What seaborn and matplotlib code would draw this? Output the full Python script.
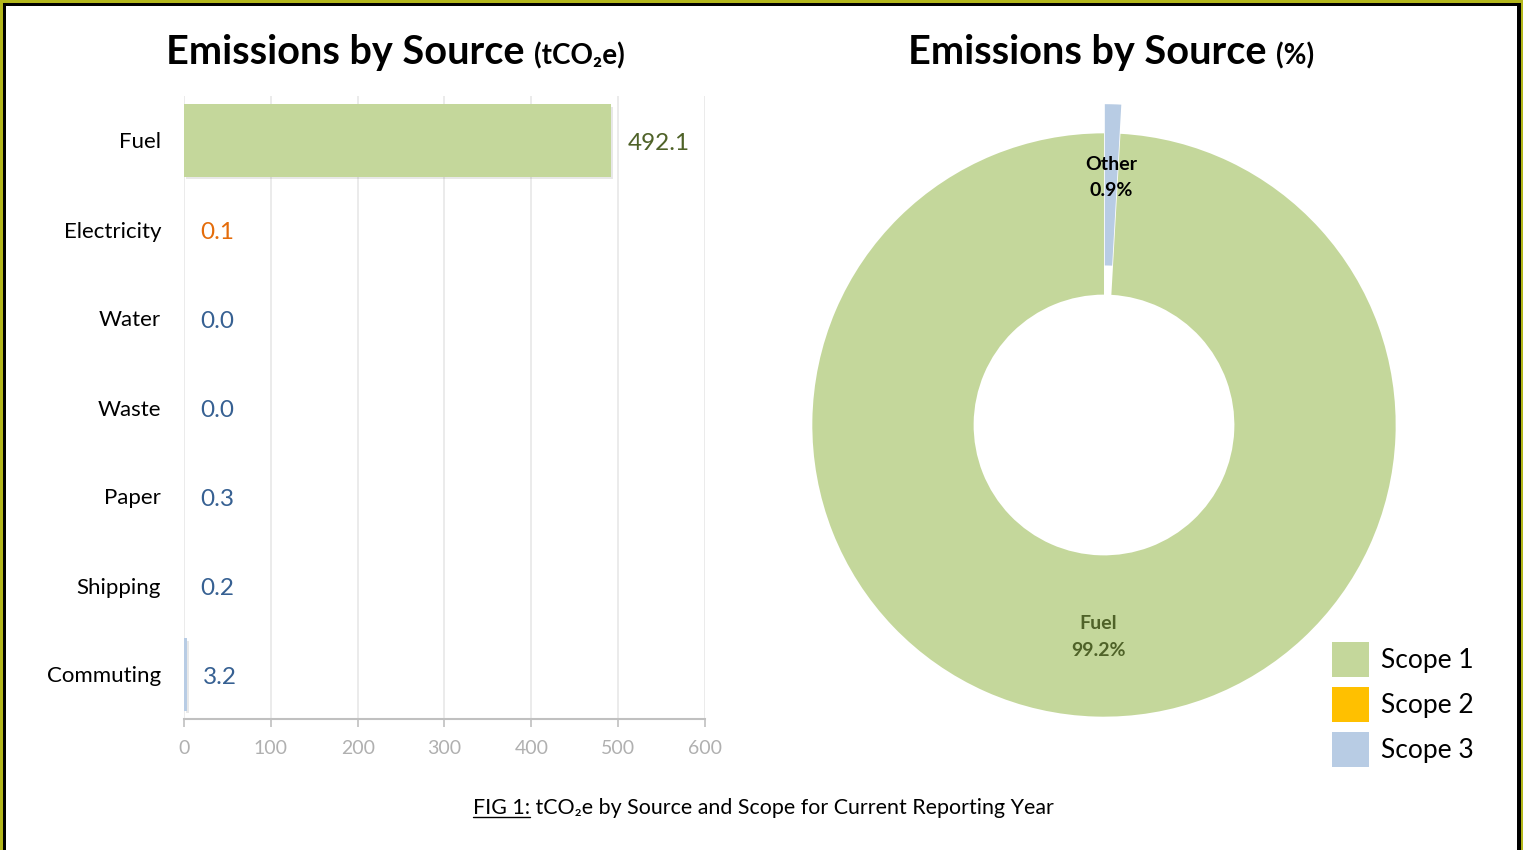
import numpy as np
import pandas as pd
import matplotlib
matplotlib.use("Agg")
import matplotlib.pyplot as plt
import seaborn as sns
from matplotlib.patches import Patch, Rectangle
from matplotlib.lines import Line2D
import matplotlib.patheffects as pe

# ---------------- data ----------------
sources = ["Fuel", "Electricity", "Water", "Waste", "Paper", "Shipping", "Commuting"]
emissions = [492.1, 0.1, 0.0, 0.0, 0.3, 0.2, 3.2]
scopes = ["Scope 1", "Scope 2", "Scope 3", "Scope 3", "Scope 3", "Scope 3", "Scope 3"]
x_ticks = [0, 100, 200, 300, 400, 500, 600]
pie_labels = ["Other", "Fuel"]
pie_shares = [0.9, 99.2]
pie_scopes = ["Scope 3", "Scope 1"]
legend_labels = ["Scope 1", "Scope 2", "Scope 3"]

scope_colors = {"Scope 1": "#c4d79b", "Scope 2": "#ffc000", "Scope 3": "#b8cce4"}
label_colors = {"Scope 1": "#4f6228", "Scope 2": "#e46c0a", "Scope 3": "#366092"}
pie_label_colors = {"Other": "#000000", "Fuel": "#4f6228"}

W, H = 1523, 850
sns.set_theme(style="white")
FONT = ["Lato", "DejaVu Sans"]
plt.rcParams["font.family"] = FONT
plt.rcParams["text.color"] = "black"

fig = plt.figure(figsize=(W / 100, H / 100), dpi=100)
fig.patch.set_facecolor("white")


def fx(x):
    return x / W


def fy(y):
    return 1 - y / H


# ---------------- bar chart ----------------
ax = fig.add_axes([fx(184), fy(719), (705 - 184) / W, (719 - 96) / H])
df = pd.DataFrame({"source": sources, "emissions": emissions, "scope": scopes})
sns.barplot(data=df, x="emissions", y="source", hue="scope", palette=scope_colors,
            dodge=False, width=0.81, orient="h", ax=ax, legend=False, saturation=1)
for p in ax.patches:
    p.set_edgecolor("none")
    p.set_path_effects([pe.SimplePatchShadow(offset=(1.5, -1.5), alpha=0.18,
                                             shadow_rgbFace="#808080"), pe.Normal()])
ax.set_xlim(0, 600)
ax.set_ylim(6.5, -0.5)
ax.set_xticks(x_ticks)
ax.set_xticklabels([str(t) for t in x_ticks])
ax.xaxis.grid(True, color="#e8e8e8", lw=1.2)
ax.yaxis.grid(False)
ax.set_axisbelow(True)
for s in ["left", "top", "right"]:
    ax.spines[s].set_visible(False)
ax.spines["bottom"].set_color("#c0c0c0")
ax.spines["bottom"].set_linewidth(1.5)
ax.tick_params(axis="x", direction="out", length=6, width=1.2, color="#c0c0c0",
               labelcolor="#b0b0b0", labelsize=14, pad=9, bottom=True)
ax.tick_params(axis="y", length=0, labelsize=16, pad=16.5, labelcolor="black")
ax.set_xlabel("")
ax.set_ylabel("")
for i, (v, s) in enumerate(zip(emissions, scopes)):
    ax.annotate(f"{v:.1f}", xy=(v, i), xytext=(11.5, -2), textcoords="offset points",
                va="center", ha="left", color=label_colors[s], fontsize=17.5)

# ---------------- donut chart ----------------
ax2 = fig.add_axes([fx(754), fy(775), 700 / W, 700 / H])
wedges, _ = ax2.pie(pie_shares, colors=[scope_colors[s] for s in pie_scopes],
                    startangle=90, counterclock=False, explode=[0.1, 0], radius=1,
                    wedgeprops=dict(width=0.553, edgecolor="none"))
ax2.set_xlim(-1.2, 1.2)
ax2.set_ylim(-1.2, 1.2)
ax2.axis("off")
label_r = {"Other": 0.85, "Fuel": 0.727}
for w, lab, share in zip(wedges, pie_labels, pie_shares):
    mid = np.deg2rad((w.theta1 + w.theta2) / 2)
    r = label_r[lab]
    ax2.text(r * np.cos(mid), r * np.sin(mid), f"{lab}\n{share:.1f}%", ha="center",
             va="center", fontsize=14, fontweight="bold", color=pie_label_colors[lab],
             linespacing=1.65)

# ---------------- legend ----------------
handles = [Patch(facecolor=scope_colors[l], edgecolor="none") for l in legend_labels]
fig.legend(handles=handles, labels=legend_labels, loc="upper left",
           bbox_to_anchor=(fx(1332), fy(642)), bbox_transform=fig.transFigure,
           frameon=False, fontsize=19, handlelength=1.42, handleheight=1.66,
           handletextpad=0.42, labelspacing=0.38, borderpad=0, borderaxespad=0)

# ---------------- titles / caption ----------------
renderer = fig.canvas.get_renderer()


def place_row(parts, cx, baseline):
    texts = [fig.text(0, fy(baseline), s, va="baseline", ha="left", **kw) for s, kw in parts]
    widths = [t.get_window_extent(renderer).width for t in texts]
    x = cx - sum(widths) / 2
    for t, w in zip(texts, widths):
        t.set_x(fx(x))
        x += w
    return texts


place_row([("Emissions by Source ", dict(fontsize=28.5, fontweight="bold")),
           ("(tCO₂e)", dict(fontsize=20, fontweight="bold"))], 395, 64)
place_row([("Emissions by Source ", dict(fontsize=28.5, fontweight="bold")),
           ("(%)", dict(fontsize=20, fontweight="bold"))], 1111, 64)
cap = place_row([("FIG 1:", dict(fontsize=15.4)),
                 (" tCO₂e by Source and Scope for Current Reporting Year", dict(fontsize=15.4))],
                763, 814)
bb = cap[0].get_window_extent(renderer)
fig.add_artist(Line2D([bb.x0 / W, bb.x1 / W], [fy(816.5)] * 2, transform=fig.transFigure,
                      color="black", lw=1))

# ---------------- border ----------------
olive = "#b3b71c"


def rect_px(x0, y0, x1, y1, color):
    fig.add_artist(Rectangle((fx(x0), fy(y1)), (x1 - x0) / W, (y1 - y0) / H,
                             transform=fig.transFigure, facecolor=color,
                             edgecolor="none", zorder=10))


rect_px(0, 0, W, 3, olive)
rect_px(0, 0, 3, H, olive)
rect_px(1521, 0, W, H, olive)
rect_px(3, 3, 1521, 6, "black")
rect_px(3, 3, 6, H, "black")
rect_px(1517, 3, 1521, H, "black")

fig.savefig("out.png", dpi=100, facecolor="white")
